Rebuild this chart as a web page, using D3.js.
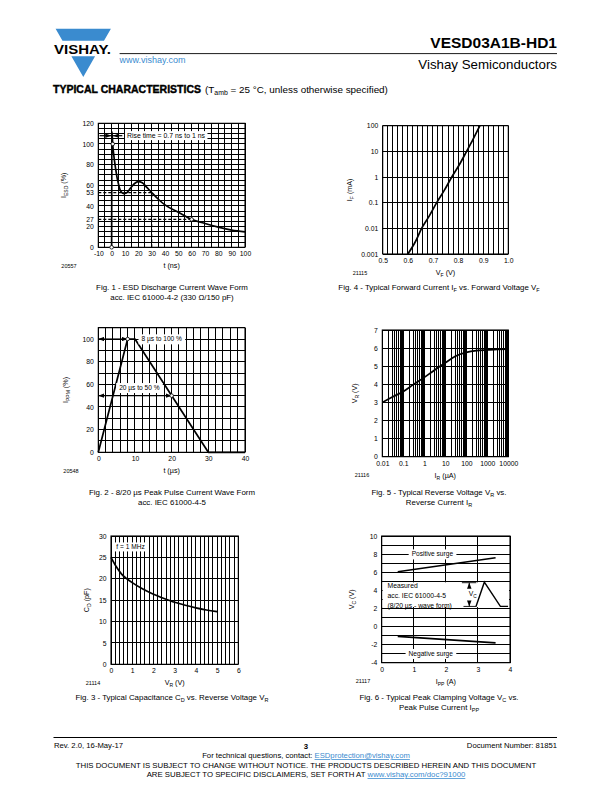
<!DOCTYPE html>
<html>
<head>
<meta charset="utf-8">
<script src="https://cdn.jsdelivr.net/npm/d3@7"></script>
<style>
  body { margin: 0; background: #fff; }
  text { font-family: "Liberation Sans", Arial, sans-serif; fill: #000; }
</style>
</head>
<body>
<svg id="page" width="612" height="792"></svg>
<script>
// Fig. 1 - ESD discharge current (IEC 61000-4-2)
var esdTime    = [0, 0.2, 0.8, 2, 3, 4, 5, 6, 7, 9, 11, 14, 17, 20, 23, 26, 30, 35, 40, 50, 60, 70, 80, 90, 100];
var esdCurrent = [0, 112, 100, 85, 76, 68, 62, 57, 54, 52, 52.5, 57, 61.5, 63.5, 62.5, 58.5, 53, 46.5, 41, 34, 27, 23, 19.5, 16.7, 15];
var esdTicksX  = [-10, 0, 10, 20, 30, 40, 50, 60, 70, 80, 90, 100];
var esdTicksY  = [0, 20, 27, 40, 53, 60, 80, 100, 120];

// Fig. 2 - 8/20 us pulse
var pulseTime    = [0, 8, 10, 30, 40];
var pulseCurrent = [0, 100, 100, 0, 0];
var pulseTicksX  = [0, 10, 20, 30, 40];
var pulseTicksY  = [0, 20, 40, 60, 80, 100];

// Fig. 3 - capacitance vs reverse voltage
var capVoltage = [0, 0.25, 0.5, 0.75, 1, 1.5, 2, 2.5, 3, 3.5, 4, 4.5, 5];
var capValue   = [25, 22.8, 21.1, 20, 19.1, 17.6, 16.4, 15.4, 14.5, 13.8, 13.2, 12.7, 12.3];
var capTicksX  = [0, 1, 2, 3, 4, 5, 6];
var capTicksY  = [0, 5, 10, 15, 20, 25, 30];

// Fig. 4 - forward current vs forward voltage
var fwdVoltage = [0.6, 0.63, 0.655, 0.685, 0.715, 0.745, 0.775, 0.805, 0.834, 0.86, 0.887];
var fwdCurrent = [0.001, 0.003, 0.01, 0.03, 0.1, 0.3, 1, 3, 10, 30, 100];
var fwdTicksX  = [0.5, 0.6, 0.7, 0.8, 0.9, 1.0];
var fwdTicksY  = [0.001, 0.01, 0.1, 1, 10, 100];

// Fig. 5 - reverse voltage vs reverse current
var revCurrent = [0.01, 0.03, 0.1, 0.3, 1, 3, 10, 30, 100, 300, 1000, 3000, 10000];
var revVoltage = [3.0, 3.3, 3.6, 3.98, 4.38, 4.78, 5.19, 5.55, 5.76, 5.86, 5.9, 5.93, 5.94];
var revTicksX  = [0.01, 0.1, 1, 10, 100, 1000, 10000];
var revTicksY  = [0, 1, 2, 3, 4, 5, 6, 7];

// Fig. 6 - clamping voltage vs peak pulse current
var clampCurrent = [0.5, 3.55];
var clampPos     = [6.05, 7.6];
var clampNeg     = [-1.09, -1.81];
var clampTicksX  = [0, 1, 2, 3, 4];
var clampTicksY  = [-4, -2, 0, 2, 4, 6, 8, 10];

var svg = d3.select("#page");
var blue = "#3a8bcf";

// arrow head marker
svg.append("defs").append("marker")
    .attr("id", "arr")
    .attr("viewBox", "0 0 8 6")
    .attr("refX", 8).attr("refY", 3)
    .attr("markerWidth", 6).attr("markerHeight", 4.5)
    .attr("markerUnits", "userSpaceOnUse")
    .attr("orient", "auto-start-reverse")
    .append("path").attr("d", "M0,0 L8,3 L0,6 Z").attr("fill", "#000");

// text with "_sub" segments
function rich(g, x, y, segs, size, anchor, rotate) {
    var t = g.append("text")
        .attr("x", x).attr("y", y)
        .attr("font-size", size)
        .attr("text-anchor", anchor || "middle");
    if (rotate) t.attr("transform", "rotate(-90," + x + "," + y + ")");
    var down = false;
    segs.forEach(function(s) {
        var sub = s[0] === "_";
        var ts = t.append("tspan").text(sub ? s.slice(1) : s);
        if (sub) { ts.attr("font-size", size * 0.7).attr("dy", size * 0.3); down = true; }
        else if (down) { ts.attr("dy", -size * 0.3); down = false; }
    });
    return t;
}

// text on a white box
function boxed(g, x, y, str, size, anchor, pad) {
    var t = g.append("text").attr("x", x).attr("y", y)
        .attr("font-size", size).attr("text-anchor", anchor || "middle")
        .attr("dy", "0.35em").text(str);
    var b = t.node().getBBox();
    g.insert("rect", function() { return t.node(); })
        .attr("x", b.x - pad).attr("y", b.y - 1)
        .attr("width", b.width + 2 * pad).attr("height", b.height + 2)
        .attr("fill", "#fff");
    return t;
}

function panel(p) {
    var g = svg.append("g");
    var x = (p.xlog ? d3.scaleLog() : d3.scaleLinear()).domain(p.xd).range([p.left, p.right]);
    var y = (p.ylog ? d3.scaleLog() : d3.scaleLinear()).domain(p.yd).range([p.bottom, p.top]);

    var grid = g.append("g").attr("stroke", "#000").attr("stroke-width", 1)
        .attr("shape-rendering", "crispEdges");
    grid.selectAll("line.v").data(p.xgrid).enter().append("line").attr("class", "v")
        .attr("x1", d => x(d)).attr("x2", d => x(d))
        .attr("y1", p.top).attr("y2", p.bottom);
    grid.selectAll("line.h").data(p.ygrid).enter().append("line").attr("class", "h")
        .attr("y1", d => y(d)).attr("y2", d => y(d))
        .attr("x1", p.left).attr("x2", p.right);
    g.append("rect")
        .attr("x", p.left).attr("y", p.top)
        .attr("width", p.right - p.left).attr("height", p.bottom - p.top)
        .attr("fill", "none").attr("stroke", "#000").attr("stroke-width", 1.1);

    var ax = g.append("g").attr("transform", "translate(0," + p.bottom + ")")
        .call(d3.axisBottom(x).tickValues(p.xticks).tickFormat(p.xfmt || String).tickSize(0).tickPadding(4));
    var ay = g.append("g").attr("transform", "translate(" + p.left + ",0)")
        .call(d3.axisLeft(y).tickValues(p.yticks).tickFormat(p.yfmt || String).tickSize(0).tickPadding(4.5));
    [ax, ay].forEach(function(a) {
        a.select(".domain").remove();
        a.attr("font-family", null).attr("font-size", null);
        a.selectAll("text").attr("font-size", 6.8);
    });

    rich(g, (p.left + p.right) / 2 + (p.xtOff || 0), p.bottom + 21, p.xtitle, 7.2, "middle");
    rich(g, p.ytX, (p.top + p.bottom) / 2 + (p.ytOff || 0), p.ytitle, 7.2, "middle", true);
    g.append("text").attr("x", p.idX).attr("y", p.bottom + 20.5)
        .attr("font-size", 5.5).attr("text-anchor", "middle").text(p.id);
    p.caption.forEach(function(c, i) {
        rich(g, p.capX, p.capY + i * 10, c, 7.9, "middle");
    });
    return { g: g, x: x, y: y };
}

function curve(c, xs, ys, kind) {
    var line = d3.line().x(d => c.x(d[0])).y(d => c.y(d[1])).curve(kind || d3.curveLinear);
    c.g.append("path").datum(d3.zip(xs, ys)).attr("d", line)
        .attr("fill", "none").attr("stroke", "#000").attr("stroke-width", 1.7)
        .attr("stroke-linejoin", "round");
}

function ring(c, px, py) {
    c.g.append("circle").attr("cx", c.x(px)).attr("cy", c.y(py)).attr("r", 1.8)
        .attr("fill", "#fff").attr("stroke", "#000").attr("stroke-width", 0.8);
}

// ---------- Fig. 1 ----------
var c1 = panel({
    left: 98.3, right: 245, top: 123.3, bottom: 247.3,
    xd: [-10, 100], yd: [0, 120],
    xgrid: d3.range(-10, 100.1, 5), ygrid: d3.range(0, 120.1, 5),
    xticks: esdTicksX, yticks: esdTicksY,
    xtitle: ["t (ns)"], ytitle: ["I", "_ESD", " (%)"], ytX: 66,
    id: "20557", idX: 69,
    capX: 172, capY: 289.5,
    caption: [["Fig. 1 - ESD Discharge Current Wave Form"], ["acc. IEC 61000-4-2 (330 \u03A9/150 pF)"]]
});
[[[-10, 53], [30, 53]], [[-10, 27], [60, 27]], [[30, 0], [30, 53]]].forEach(function(s) {
    c1.g.append("line")
        .attr("x1", c1.x(s[0][0])).attr("y1", c1.y(s[0][1]))
        .attr("x2", c1.x(s[1][0])).attr("y2", c1.y(s[1][1]))
        .attr("stroke", "#000").attr("stroke-width", 1.3).attr("stroke-dasharray", "3,2");
});
curve(c1, esdTime, esdCurrent, d3.curveMonotoneX);
ring(c1, 0, 0); ring(c1, 0.8, 100); ring(c1, 60, 27);
c1.g.append("line").attr("x1", c1.x(-9)).attr("x2", c1.x(-0.3))
    .attr("y1", c1.y(108)).attr("y2", c1.y(108)).attr("stroke", "#000").attr("stroke-width", 1.2)
    .attr("marker-end", "url(#arr)");
c1.g.append("line").attr("x1", c1.x(8)).attr("x2", c1.x(1))
    .attr("y1", c1.y(108)).attr("y2", c1.y(108)).attr("stroke", "#000").attr("stroke-width", 1.2)
    .attr("marker-end", "url(#arr)");
boxed(c1.g, c1.x(11.5), c1.y(108), "Rise time = 0.7 ns to 1 ns", 6.9, "start", 2);

// ---------- Fig. 4 ----------
var c4 = panel({
    left: 382.7, right: 508.3, top: 125.7, bottom: 254,
    xd: [0.5, 1.0], yd: [0.001, 100], ylog: true,
    xgrid: d3.range(0, 26).map(i => 0.5 + i * 0.02), ygrid: fwdTicksY,
    xticks: fwdTicksX, yticks: fwdTicksY,
    xfmt: d3.format(".1f"), yfmt: String,
    xtitle: ["V", "_F", " (V)"], ytitle: ["I", "_F", " (mA)"], ytX: 352,
    id: "21115", idX: 360,
    capX: 439, capY: 289.5,
    caption: [["Fig. 4 - Typical Forward Current I", "_F", " vs. Forward Voltage V", "_F"]]
});
curve(c4, fwdVoltage, fwdCurrent, d3.curveMonotoneX);

// ---------- Fig. 2 ----------
var c2 = panel({
    left: 98.3, right: 245, top: 327.7, bottom: 452.3,
    xd: [0, 40], yd: [0, 110],
    xgrid: d3.range(0, 40.1, 2), ygrid: d3.range(0, 110.1, 10),
    xticks: pulseTicksX, yticks: pulseTicksY,
    xtitle: ["t (\u00B5s)"], ytitle: ["I", "_PPM", " (%)"], ytX: 68,
    id: "20548", idX: 71,
    capX: 172, capY: 494.5,
    caption: [["Fig. 2 - 8/20 \u00B5s Peak Pulse Current Wave Form"], ["acc. IEC 61000-4-5"]]
});
curve(c2, pulseTime, pulseCurrent);
c2.g.append("line").attr("x1", c2.x(0)).attr("x2", c2.x(8))
    .attr("y1", c2.y(100)).attr("y2", c2.y(100)).attr("stroke", "#000").attr("stroke-width", 1.2)
    .attr("marker-start", "url(#arr)").attr("marker-end", "url(#arr)");
c2.g.append("line").attr("x1", c2.x(0)).attr("x2", c2.x(20))
    .attr("y1", c2.y(50)).attr("y2", c2.y(50)).attr("stroke", "#000").attr("stroke-width", 1.2)
    .attr("marker-start", "url(#arr)").attr("marker-end", "url(#arr)");
ring(c2, 8, 100); ring(c2, 20, 50);
boxed(c2.g, c2.x(17.3), c2.y(100), "8 \u00B5s to 100 %", 6.6, "middle", 3);
boxed(c2.g, c2.x(11.2), c2.y(57), "20 \u00B5s to 50 %", 6.6, "middle", 3);

// ---------- Fig. 5 ----------
var revGrid = [];
[0.01, 0.1, 1, 10, 100, 1000].forEach(function(d) {
    for (var k = 1; k < 10; k++) revGrid.push(k * d);
});
revGrid.push(10000);
var c5 = panel({
    left: 382.3, right: 508.3, top: 330, bottom: 456.7,
    xd: [0.01, 10000], yd: [0, 7], xlog: true,
    xgrid: revGrid, ygrid: revTicksY,
    xticks: revTicksX, yticks: revTicksY,
    xtitle: ["I", "_R", " (\u00B5A)"], ytitle: ["V", "_R", " (V)"], ytX: 357,
    id: "21116", idX: 362,
    capX: 439, capY: 494.5,
    caption: [["Fig. 5 - Typical Reverse Voltage V", "_R", " vs."], ["Reverse Current I", "_R"]]
});
curve(c5, revCurrent, revVoltage, d3.curveMonotoneX);

// ---------- Fig. 3 ----------
var c3 = panel({
    left: 111, right: 238.3, top: 536, bottom: 664.3,
    xd: [0, 6], yd: [0, 30],
    xgrid: d3.range(0, 31).map(i => i * 0.2), ygrid: capTicksY,
    xticks: capTicksX, yticks: capTicksY,
    xtitle: ["V", "_R", " (V)"], ytitle: ["C", "_D", " (pF)"], ytX: 89,
    id: "21114", idX: 93,
    capX: 172, capY: 699.5,
    caption: [["Fig. 3 - Typical Capacitance C", "_D", " vs. Reverse Voltage V", "_R"]]
});
curve(c3, capVoltage, capValue, d3.curveMonotoneX);
boxed(c3.g, c3.x(0.25), c3.y(27.4), "f = 1 MHz", 6.6, "start", 2.5);

// ---------- Fig. 6 ----------
var c6 = panel({
    left: 381.7, right: 510, top: 536, bottom: 662.7,
    xd: [0, 4], yd: [-4, 10],
    xgrid: clampTicksX, ygrid: d3.range(-4, 10.1, 1),
    xticks: clampTicksX, yticks: clampTicksY,
    xtitle: ["I", "_PP", " (A)"], ytitle: ["V", "_C", " (V)"], ytX: 354,
    id: "21117", idX: 363,
    capX: 439, capY: 699.5,
    caption: [["Fig. 6 - Typical Peak Clamping Voltage V", "_C", " vs."], ["Peak Pulse Current I", "_PP"]]
});
c6.g.append("rect")
    .attr("x", c6.x(0) + 1).attr("y", c6.y(4.88))
    .attr("width", c6.x(4) - c6.x(0) - 2).attr("height", c6.y(2.15) - c6.y(4.88))
    .attr("fill", "#fff");
curve(c6, clampCurrent, clampPos);
curve(c6, clampCurrent, clampNeg);
boxed(c6.g, c6.x(1.58), c6.y(8), "Positive surge", 6.6, "middle", 3);
boxed(c6.g, c6.x(1.53), c6.y(-3), "Negative surge", 6.6, "middle", 3);
["Measured", "acc. IEC 61000-4-5", "(8/20 \u00B5s - wave form)"].forEach(function(s, i) {
    c6.g.append("text").attr("x", c6.x(0.18)).attr("y", c6.y(4.25) + i * 9.8)
        .attr("font-size", 6.8).text(s);
});
// inset wave form sketch
var inset = c6.g.append("g").attr("fill", "none").attr("stroke", "#000").attr("stroke-width", 0.9);
inset.append("line").attr("x1", c6.x(2.5)).attr("x2", c6.x(2.95)).attr("y1", c6.y(4.84)).attr("y2", c6.y(4.84));
inset.append("line").attr("x1", c6.x(2.55)).attr("x2", c6.x(2.95)).attr("y1", c6.y(2.22)).attr("y2", c6.y(2.22));
inset.append("line").attr("x1", c6.x(2.73)).attr("x2", c6.x(2.73)).attr("y1", c6.y(4.84)).attr("y2", c6.y(4.35))
    .attr("marker-start", "url(#arr)");
inset.append("line").attr("x1", c6.x(2.73)).attr("x2", c6.x(2.73)).attr("y1", c6.y(2.7)).attr("y2", c6.y(2.22))
    .attr("marker-end", "url(#arr)");
inset.append("path").attr("stroke-width", 1.4)
    .attr("d", d3.line().x(d => c6.x(d[0])).y(d => c6.y(d[1]))([[2.94, 2.22], [3.2, 4.9], [3.7, 2.22], [3.94, 2.22]]));
rich(c6.g, c6.x(2.84), c6.y(3.35), ["V", "_C"], 6.8, "middle");

// ---------- page header ----------
var hd = svg.append("g");
hd.append("path").attr("fill", blue)
    .attr("d", "M55.6,28.7 L110.9,28.7 L104,40.8 L62.5,40.8 Z M71.4,56.3 L95.1,56.3 L83.3,77 Z");
hd.append("text").attr("x", 54).attr("y", 53.5).attr("font-size", 13).attr("font-weight", "bold")
    .attr("textLength", 57).attr("lengthAdjust", "spacingAndGlyphs").text("VISHAY.");
hd.append("text").attr("x", 119.6).attr("y", 63).attr("font-size", 9).attr("fill", blue)
    .style("fill", blue).text("www.vishay.com");
hd.append("line").attr("x1", 119.6).attr("x2", 557).attr("y1", 53.6).attr("y2", 53.6)
    .attr("stroke", "#000").attr("stroke-width", 0.9);
hd.append("text").attr("x", 557).attr("y", 47.5).attr("font-size", 15.5).attr("font-weight", "bold")
    .attr("text-anchor", "end").text("VESD03A1B-HD1");
hd.append("text").attr("x", 557).attr("y", 68.5).attr("font-size", 13.3)
    .attr("text-anchor", "end").text("Vishay Semiconductors");
hd.append("text").attr("x", 53).attr("y", 92.5).attr("font-size", 10).attr("font-weight", "bold")
    .attr("stroke", "#000").attr("stroke-width", 0.4)
    .attr("textLength", 148).attr("lengthAdjust", "spacingAndGlyphs").text("TYPICAL CHARACTERISTICS");
rich(hd, 205, 92.5, ["(T", "_amb", " = 25 \u00B0C, unless otherwise specified)"], 9.9, "start");

// ---------- page footer ----------
var ft = svg.append("g");
ft.append("line").attr("x1", 53.5).attr("x2", 557).attr("y1", 737.5).attr("y2", 737.5)
    .attr("stroke", "#000").attr("stroke-width", 1);
ft.append("text").attr("x", 54).attr("y", 747.5).attr("font-size", 7.7).text("Rev. 2.0, 16-May-17");
ft.append("text").attr("x", 306).attr("y", 748.5).attr("font-size", 7.8).attr("font-weight", "bold")
    .attr("text-anchor", "middle").text("3");
ft.append("text").attr("x", 557).attr("y", 747.5).attr("font-size", 7.7).attr("text-anchor", "end")
    .text("Document Number: 81851");
var q = ft.append("text").attr("x", 306).attr("y", 758).attr("font-size", 7.7).attr("text-anchor", "middle");
q.append("tspan").text("For technical questions, contact: ");
q.append("tspan").style("fill", blue).attr("text-decoration", "underline").text("ESDprotection@vishay.com");
ft.append("text").attr("x", 306).attr("y", 768).attr("font-size", 7.8).attr("text-anchor", "middle")
    .text("THIS DOCUMENT IS SUBJECT TO CHANGE WITHOUT NOTICE. THE PRODUCTS DESCRIBED HEREIN AND THIS DOCUMENT");
var d = ft.append("text").attr("x", 306).attr("y", 777).attr("font-size", 7.8).attr("text-anchor", "middle");
d.append("tspan").text("ARE SUBJECT TO SPECIFIC DISCLAIMERS, SET FORTH AT ");
d.append("tspan").style("fill", blue).attr("text-decoration", "underline").text("www.vishay.com/doc?91000");
</script>
</body>
</html>
